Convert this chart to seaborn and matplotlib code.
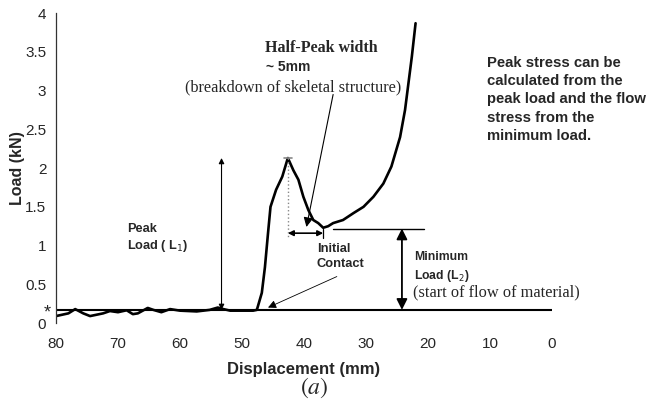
import matplotlib
matplotlib.use("Agg")
import matplotlib.pyplot as plt
import seaborn as sns
import pandas as pd

# Load-displacement trace of the compression test
displacement_mm = [80, 78.0, 76.9, 75.6, 74.5, 72.4, 71.3, 70.0, 68.6, 67.6, 66.8,
                   65.2, 64.3, 63.0, 61.6, 60.0, 57.3, 55.2, 53.9, 53.0, 51.9,
                   48.2, 47.6, 46.8, 46.3, 45.8, 45.4, 44.5, 43.5, 42.6, 41.7,
                   40.9, 40.1, 39.3, 38.5, 37.7, 36.9, 36.1, 35.3, 33.7, 32.0,
                   30.4, 28.8, 27.2, 25.9, 24.5, 23.7, 22.6, 22.0]
load_kN = [0.09, 0.125, 0.18, 0.125, 0.09, 0.125, 0.155, 0.14, 0.165, 0.115, 0.125,
           0.195, 0.17, 0.14, 0.18, 0.16, 0.15, 0.17, 0.20, 0.18, 0.16,
           0.16, 0.17, 0.39, 0.72, 1.16, 1.50, 1.72, 1.89, 2.13, 1.97,
           1.85, 1.63, 1.46, 1.33, 1.29, 1.23, 1.25, 1.29, 1.33, 1.42,
           1.50, 1.63, 1.80, 2.02, 2.40, 2.75, 3.44, 3.87]

x_ticks = [80, 70, 60, 50, 40, 30, 20, 10, 0]
y_ticks = [0, 0.5, 1, 1.5, 2, 2.5, 3, 3.5, 4]

baseline_load = 0.17      # reference level of the empty platen
peak_load = 2.13          # L1
peak_disp = 42.6
min_load = 1.22           # L2
min_disp = 36.9
contact_disp = 45.8

df = pd.DataFrame({"Displacement (mm)": displacement_mm, "Load (kN)": load_kN})

sns.set_style("white")
SANS = ["Liberation Sans", "DejaVu Sans"]
SERIF = ["Liberation Serif", "DejaVu Serif"]
plt.rcParams["font.family"] = SANS

fig = plt.figure(figsize=(6.48, 4.11), dpi=100)
ax = fig.add_axes([0.0864, 0.214, 0.7654, 0.754])

sns.lineplot(data=df, x="Displacement (mm)", y="Load (kN)", sort=False,
             color="black", lw=1.9, ax=ax)
ax.axhline(baseline_load, color="black", lw=1.5)

ax.set_xlim(80, 0)
ax.set_ylim(0, 4)
ax.set_xticks(x_ticks)
ax.set_yticks(y_ticks)
ax.set_xticklabels([str(v) for v in x_ticks])
ax.set_yticklabels([f"{v:g}" for v in y_ticks])
ax.tick_params(axis="y", direction="out", length=4, width=0.8, color="#333333",
               labelsize=11, pad=3)
ax.tick_params(axis="x", direction="out", length=4, width=0.8, color="#999999",
               labelsize=11, pad=6)
for s in ["top", "right", "bottom"]:
    ax.spines[s].set_visible(False)
ax.spines["left"].set_color("#333333")
ax.spines["left"].set_linewidth(0.9)

ax.set_xlabel("Displacement (mm)", fontsize=12, fontweight="bold", labelpad=8)
ax.set_ylabel("Load (kN)", fontsize=11.5, fontweight="bold", labelpad=0)

# Peak load L1 arrow
ax.annotate("", xy=(53.3, peak_load), xytext=(53.3, baseline_load),
            arrowprops=dict(arrowstyle="<|-|>", lw=0.8, color="black",
                            mutation_scale=8, shrinkA=0, shrinkB=0))
ax.text(68.6, 1.09, "Peak\nLoad ( L$_1$)", fontsize=9.2, fontweight="bold",
        va="center", ha="left", linespacing=1.25)

# Half-peak width markers
ax.plot([peak_disp, peak_disp], [peak_load, 1.1], color="#888888", lw=1, ls=":")
ax.plot([43.3, 41.9], [peak_load, peak_load], color="#888888", lw=1.2)
ax.plot([min_disp, min_disp], [min_load, 1.1], color="black", lw=0.9)
ax.annotate("", xy=(min_disp, 1.16), xytext=(peak_disp, 1.16),
            arrowprops=dict(arrowstyle="<|-|>", lw=1.2, color="black",
                            mutation_scale=8, shrinkA=0, shrinkB=0))
ax.annotate("", xy=(39.6, 1.24), xytext=(35.3, 2.95),
            arrowprops=dict(arrowstyle="-|>", lw=0.8, color="black",
                            mutation_scale=14, shrinkA=0, shrinkB=0))
ax.text(46.3, 3.55, "Half-Peak width", fontsize=11.5, fontweight="bold",
        family=SERIF, ha="left", va="center")
ax.text(46.2, 3.30, "~ 5mm", fontsize=10, fontweight="bold", ha="left", va="center")
ax.text(41.7, 3.04, "(breakdown of skeletal structure)", fontsize=11.7,
        family=SERIF, ha="center", va="center")

# Initial contact
ax.annotate("", xy=(contact_disp, 0.2), xytext=(34.7, 0.6),
            arrowprops=dict(arrowstyle="-|>", lw=0.6, color="black",
                            mutation_scale=12, shrinkA=0, shrinkB=0))
ax.text(37.9, 0.86, "Initial\nContact", fontsize=9.3, fontweight="bold",
        ha="left", va="center", linespacing=1.4)

# Minimum load L2
ax.plot([35.3, 20.6], [min_load, min_load], color="black", lw=1.0)
ax.annotate("", xy=(24.2, min_load), xytext=(24.2, baseline_load),
            arrowprops=dict(arrowstyle="<|-|>", lw=1.3, color="black",
                            mutation_scale=16, shrinkA=0, shrinkB=0))
ax.text(22.3, 0.72, "Minimum\nLoad (L$_2$)", fontsize=8.8, fontweight="bold",
        ha="left", va="center", linespacing=1.45)
ax.text(22.4, 0.39, "(start of flow of material)", fontsize=11.8, family=SERIF,
        ha="left", va="center")

ax.text(-0.018, 0.033, "*", transform=ax.transAxes, fontsize=13, ha="center",
        va="center")

fig.text(0.752, 0.864, "Peak stress can be\ncalculated from the\npeak load and the flow\n"
         "stress from the\nminimum load.", fontsize=10.7, fontweight="bold",
         ha="left", va="top", linespacing=1.39)

fig.text(0.485, 0.056, "$(a)$", fontsize=17, family=SERIF, ha="center", va="center",
         math_fontfamily="stix")

fig.savefig("out.png", dpi=100)
